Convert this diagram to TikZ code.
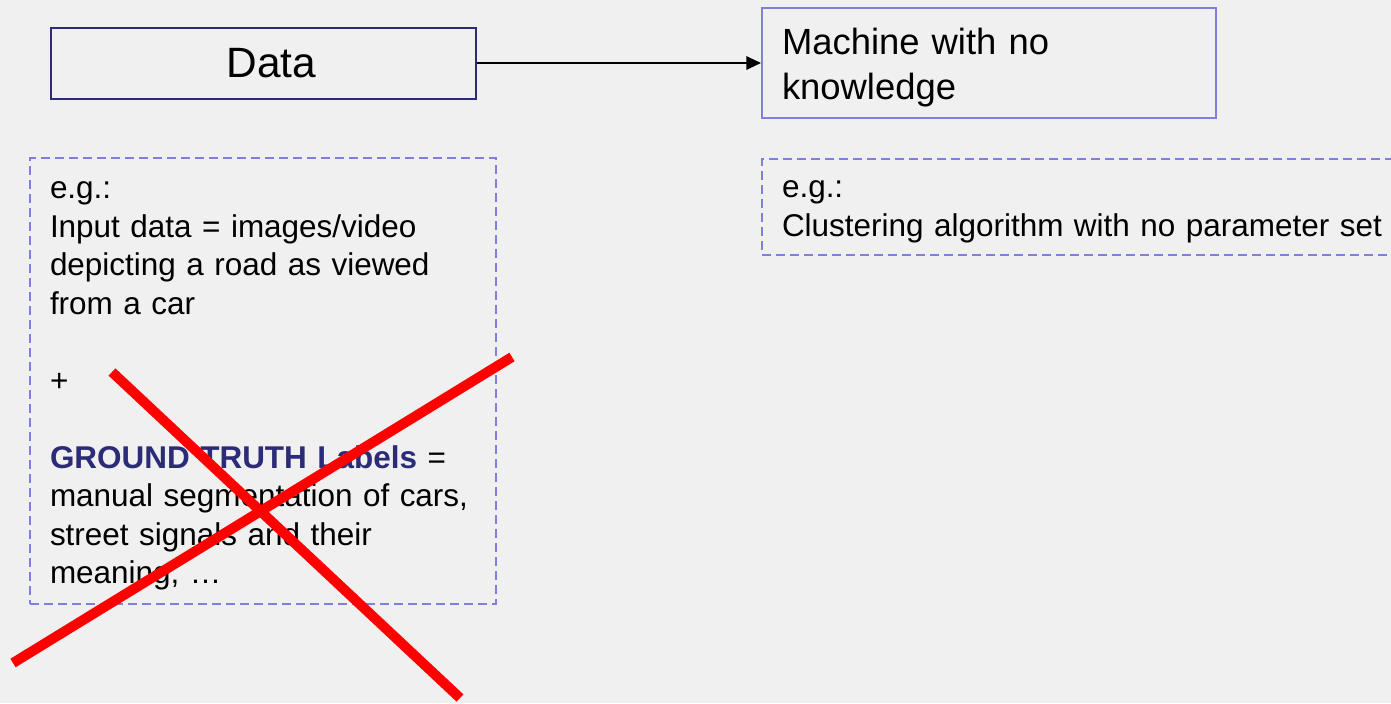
\documentclass[tikz,border=0pt]{standalone}
\usepackage{fontspec}
\setmainfont{Liberation Sans}
\usetikzlibrary{arrows.meta}
\definecolor{fondo}{HTML}{F0F0F0}
\definecolor{azuloscuro}{HTML}{2B2B78}
\definecolor{lila}{HTML}{8080DC}
\definecolor{rojo}{HTML}{FF0000}

\begin{document}
\begin{tikzpicture}[x=0.75pt, y=-0.75pt,
        caja/.style={draw, line width=1.5pt, inner sep=0pt},
        nota/.style={draw=lila, line width=1.5pt, dash pattern=on 6.75pt off 3.75pt,
            inner xsep=15pt, inner ysep=0pt, align=left,
            font=\fontsize{23.6}{28.9}\selectfont},
        tachado/.style={rojo, line width=7.5pt}]
        % Fondo
        \fill[fondo] (0,0) rectangle (1391,703);
        \useasboundingbox (0,0) rectangle (1391,703);

        % Datos y maquina
        \node[caja, draw=azuloscuro, minimum width=318.75pt, minimum height=53.25pt,
            font=\fontsize{31.8}{36}\selectfont] (datos) at (263.5,63) {\hspace{12pt}Data};
        \node[caja, draw=lila, minimum width=340.5pt, minimum height=82.5pt,
            text width=310.5pt, inner xsep=15pt, align=left,
            font=\fontsize{27.3}{33.75}\selectfont] (maquina) at (989,63)
            {\rule{0pt}{27pt}Machine with no\\knowledge};
        \draw[-{Triangle[length=11pt,width=10pt]}, line width=1.5pt] (datos) -- (maquina);

        % Ejemplos
        \node[nota, minimum width=349.5pt, minimum height=334.5pt, text width=319.5pt]
            (ejdatos) at (263,381)
            {\strut e.g.:\\
            Input data = images/video\\
            depicting a road as viewed\\
            from a car\\[28.9pt]
            +\\[28.9pt]
            \textbf{\textcolor{azuloscuro}{GROUND TRUTH Labels}} =\\
            manual segmentation of cars,\\
            street signals and their\\
            meaning, …};
        \node[nota, minimum height=72pt, text width=465pt] (ejmaquina) at (1092,207)
            {\strut e.g.:\\Clustering algorithm with no parameter set};

        % Cruz roja
        \draw[tachado] (13,663) -- (512,357);
        \draw[tachado] (112,372) -- (460,698);
    \end{tikzpicture}
\end{document}
